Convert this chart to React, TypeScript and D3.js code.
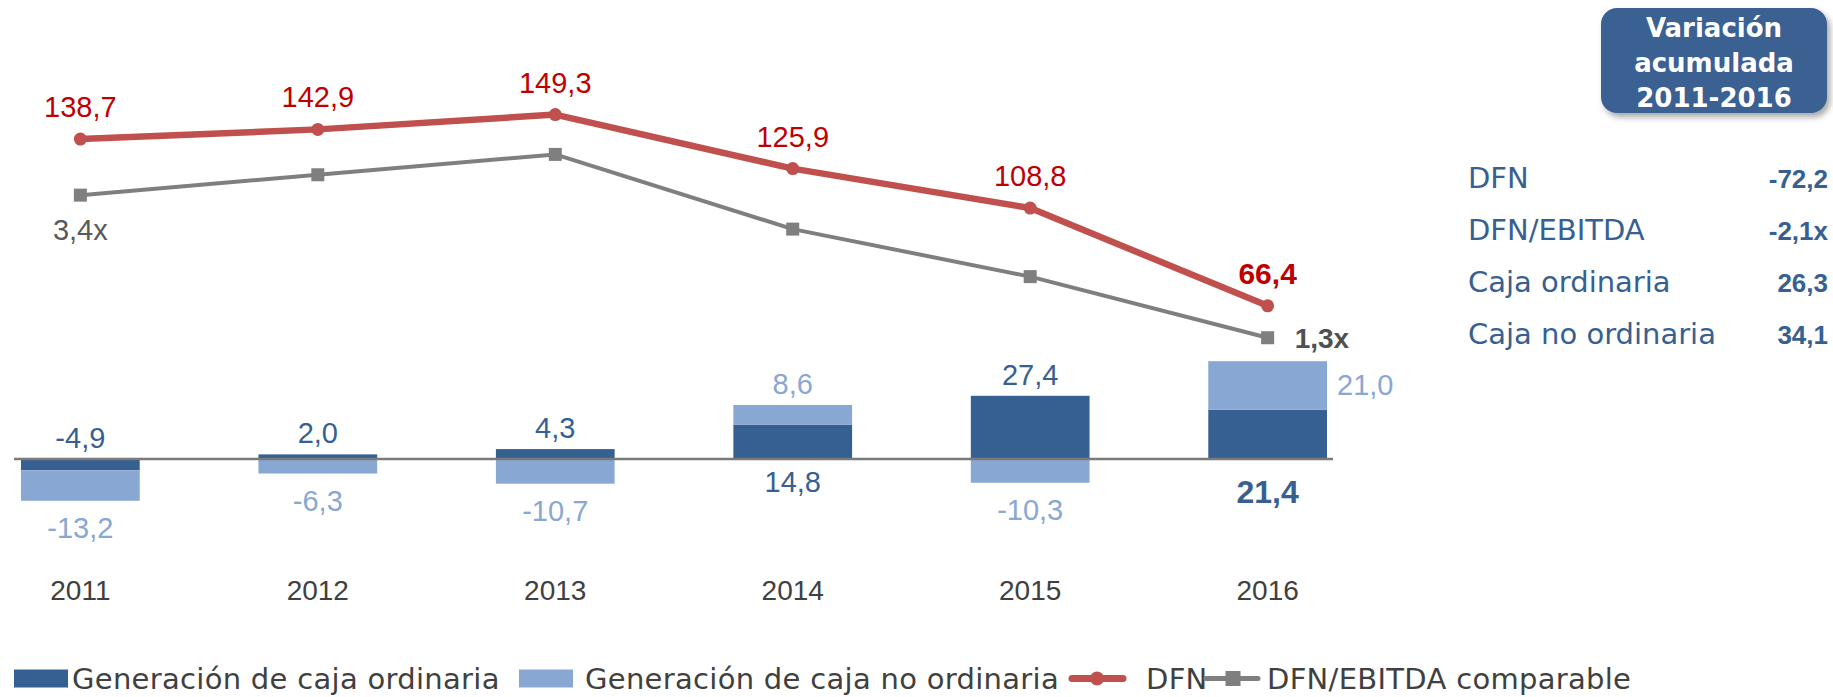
import React, { useEffect, useRef } from "react";
import * as d3 from "d3";

// chart data
const years = ["2011", "2012", "2013", "2014", "2015", "2016"];
const cajaOrdinaria = [-4.9, 2.0, 4.3, 14.8, 27.4, 21.4];
const cajaNoOrdinaria = [-13.2, -6.3, -10.7, 8.6, -10.3, 21.0];
const dfn = [138.7, 142.9, 149.3, 125.9, 108.8, 66.4];
const dfnEbitda = [3.4, 3.7, 4.0, 2.9, 2.2, 1.3];

// right panel
const boxTitle = ["Variación", "acumulada", "2011-2016"];
const summaryLabels = ["DFN", "DFN/EBITDA", "Caja ordinaria", "Caja no ordinaria"];
const summaryValues = ["-72,2", "-2,1x", "26,3", "34,1"];

const legendLabels = [
  "Generación de caja ordinaria",
  "Generación de caja no ordinaria",
  "DFN",
  "DFN/EBITDA comparable",
];

const DARK = "#376092";
const LIGHT = "#89a7d3";
const RED = "#c0504d";
const GREY = "#7f7f7f";
const LABEL_FONT = "'Liberation Sans', Arial, sans-serif";
const WIDE_FONT = "'DejaVu Sans', Verdana, sans-serif";

const locale = d3.formatLocale({
  decimal: ",",
  thousands: ".",
  grouping: [3],
  currency: ["", "€"],
  minus: "-",
});
const fmt = locale.format(".1f");

const W = 1833;
const H = 697;

const App = () => {
  const ref = useRef<SVGSVGElement>(null);

  useEffect(() => {
    const svg = d3.select(ref.current);
    svg.selectAll("*").remove();

    const x = d3.scaleBand().domain(years).range([21, 1327]).paddingInner(0.5).paddingOuter(0);
    const y = d3.scaleLinear().domain([0, 150]).range([459, 113]);
    const yRatio = d3.scaleLinear().domain([0, 5]).range([426, 86.5]);
    const bw = x.bandwidth();
    const cx = (yr: string) => (x(yr) as number) + bw / 2;

    const defs = svg.append("defs");
    const f = defs.append("filter").attr("id", "shadow").attr("x", "-10%").attr("y", "-10%")
      .attr("width", "130%").attr("height", "140%");
    f.append("feDropShadow").attr("dx", 3).attr("dy", 4).attr("stdDeviation", 3)
      .attr("flood-color", "#000").attr("flood-opacity", 0.35);

    // stacked bars
    const table = years.map((yr, i) => ({ year: yr, ord: cajaOrdinaria[i], noord: cajaNoOrdinaria[i] }));
    const series = d3.stack<any>().keys(["ord", "noord"]).offset(d3.stackOffsetDiverging)(table);
    const colors = [DARK, LIGHT];

    series.forEach((s, k) => {
      svg.append("g").selectAll("rect").data(s).enter().append("rect")
        .attr("x", d => x(d.data.year) as number)
        .attr("width", bw)
        .attr("y", d => y(Math.max(d[0], d[1])))
        .attr("height", d => Math.abs(y(d[0]) - y(d[1])))
        .attr("fill", colors[k]);
    });

    // zero line
    svg.append("line").attr("x1", 14).attr("x2", 1333).attr("y1", y(0)).attr("y2", y(0))
      .attr("stroke", "#7a7a7a").attr("stroke-width", 2.5);

    // bar labels
    const labels = svg.append("g").attr("font-family", LABEL_FONT).attr("text-anchor", "middle");
    const last = years.length - 1;
    years.forEach((yr, i) => {
      const d = series[0][i];
      const l = series[1][i];
      const ord = cajaOrdinaria[i];
      const no = cajaNoOrdinaria[i];
      let dy: number;
      if (ord < 0) dy = y(0) - 11;
      else if (no < 0) dy = y(Math.max(d[0], d[1])) - 11;
      else dy = y(0) + (i === last ? 44 : 33);
      labels.append("text").attr("x", cx(yr)).attr("y", dy)
        .attr("font-size", i === last ? 32 : 29)
        .attr("font-weight", i === last ? "bold" : "normal")
        .attr("fill", DARK).text(fmt(ord));

      const t = labels.append("text").attr("fill", LIGHT).attr("font-size", 29);
      if (no < 0) {
        t.attr("x", cx(yr)).attr("y", y(Math.min(l[0], l[1])) + 37);
      } else if (i === last) {
        t.attr("x", (x(yr) as number) + bw + 10).attr("text-anchor", "start")
          .attr("y", (y(l[0]) + y(l[1])) / 2 + 10);
      } else {
        t.attr("x", cx(yr)).attr("y", y(Math.max(l[0], l[1])) - 11);
      }
      t.text(fmt(no));
    });

    // DFN/EBITDA line
    const lineR = d3.line<number>().x((_, i) => cx(years[i])).y(v => yRatio(v));
    svg.append("path").attr("d", lineR(dfnEbitda)).attr("fill", "none")
      .attr("stroke", GREY).attr("stroke-width", 4).attr("stroke-linejoin", "round");
    svg.append("g").selectAll("rect").data(dfnEbitda).enter().append("rect")
      .attr("x", (_, i) => cx(years[i]) - 6.5).attr("y", v => yRatio(v) - 6.5)
      .attr("width", 13).attr("height", 13).attr("fill", GREY);

    // DFN line
    const lineL = d3.line<number>().x((_, i) => cx(years[i])).y(v => y(v));
    svg.append("path").attr("d", lineL(dfn)).attr("fill", "none")
      .attr("stroke", RED).attr("stroke-width", 6.5).attr("stroke-linejoin", "round");
    svg.append("g").selectAll("circle").data(dfn).enter().append("circle")
      .attr("cx", (_, i) => cx(years[i])).attr("cy", v => y(v)).attr("r", 6.5).attr("fill", RED);

    svg.append("g").attr("font-family", LABEL_FONT).attr("text-anchor", "middle")
      .selectAll("text").data(dfn).enter().append("text")
      .attr("x", (_, i) => cx(years[i])).attr("y", v => y(v) - 22)
      .attr("font-size", (_, i) => (i === last ? 30 : 29))
      .attr("font-weight", (_, i) => (i === last ? "bold" : "normal"))
      .attr("fill", "#c00000").text(v => fmt(v));

    // ratio labels, first and last
    svg.append("text").attr("font-family", LABEL_FONT).attr("font-size", 29).attr("fill", "#595959")
      .attr("text-anchor", "middle").attr("x", cx(years[0])).attr("y", yRatio(dfnEbitda[0]) + 45)
      .text(fmt(dfnEbitda[0]) + "x");
    svg.append("text").attr("font-family", LABEL_FONT).attr("font-size", 28).attr("font-weight", "bold")
      .attr("fill", "#505050").attr("x", cx(years[last]) + 27).attr("y", yRatio(dfnEbitda[last]) + 10)
      .text(fmt(dfnEbitda[last]) + "x");

    // category axis
    svg.append("g").attr("font-family", LABEL_FONT).attr("font-size", 28).attr("fill", "#404040")
      .attr("text-anchor", "middle").selectAll("text").data(years).enter().append("text")
      .attr("x", d => cx(d)).attr("y", 600).text(d => d);

    // legend
    const lg = svg.append("g").attr("font-family", WIDE_FONT).attr("font-size", 29)
      .attr("letter-spacing", 0.3).attr("fill", "#404040");
    const ly = 678.5;
    lg.append("rect").attr("x", 14).attr("y", ly - 9).attr("width", 54).attr("height", 18).attr("fill", DARK);
    lg.append("text").attr("x", 72).attr("y", ly + 10).text(legendLabels[0]);
    lg.append("rect").attr("x", 519).attr("y", ly - 9).attr("width", 54).attr("height", 18).attr("fill", LIGHT);
    lg.append("text").attr("x", 585).attr("y", ly + 10).text(legendLabels[1]);
    lg.append("line").attr("x1", 1072).attr("x2", 1123).attr("y1", ly).attr("y2", ly)
      .attr("stroke", RED).attr("stroke-width", 7).attr("stroke-linecap", "round");
    lg.append("circle").attr("cx", 1097).attr("cy", ly).attr("r", 7).attr("fill", RED);
    lg.append("text").attr("x", 1146).attr("y", ly + 10).text(legendLabels[2]);
    lg.append("line").attr("x1", 1206).attr("x2", 1258).attr("y1", ly).attr("y2", ly)
      .attr("stroke", GREY).attr("stroke-width", 5).attr("stroke-linecap", "round");
    lg.append("rect").attr("x", 1225.5).attr("y", ly - 7.5).attr("width", 15).attr("height", 15).attr("fill", GREY);
    lg.append("text").attr("x", 1267).attr("y", ly + 10).text(legendLabels[3]);

    // summary box
    svg.append("rect").attr("x", 1601).attr("y", 8).attr("width", 226).attr("height", 105)
      .attr("rx", 16).attr("fill", "#3a6192").attr("filter", "url(#shadow)");
    svg.append("g").attr("font-family", WIDE_FONT).attr("font-weight", "bold").attr("font-size", 26)
      .attr("fill", "#fff").attr("text-anchor", "middle")
      .selectAll("text").data(boxTitle).enter().append("text")
      .attr("x", 1714).attr("y", (_, i) => 37 + i * 35).text(d => d);

    const sm = svg.append("g").attr("fill", DARK);
    summaryLabels.forEach((s, i) => {
      const by = 188 + i * 52;
      sm.append("text").attr("x", 1468).attr("y", by).attr("font-family", WIDE_FONT)
        .attr("font-size", 29).text(s);
      sm.append("text").attr("x", 1828).attr("y", by).attr("font-family", LABEL_FONT)
        .attr("font-size", 26).attr("font-weight", "bold")
        .attr("text-anchor", "end").text(summaryValues[i]);
    });
  }, []);

  return (
    <svg ref={ref} width={W} height={H} style={{ position: "absolute", left: 0, top: 0, background: "#fff" }} />
  );
};

export default App;
